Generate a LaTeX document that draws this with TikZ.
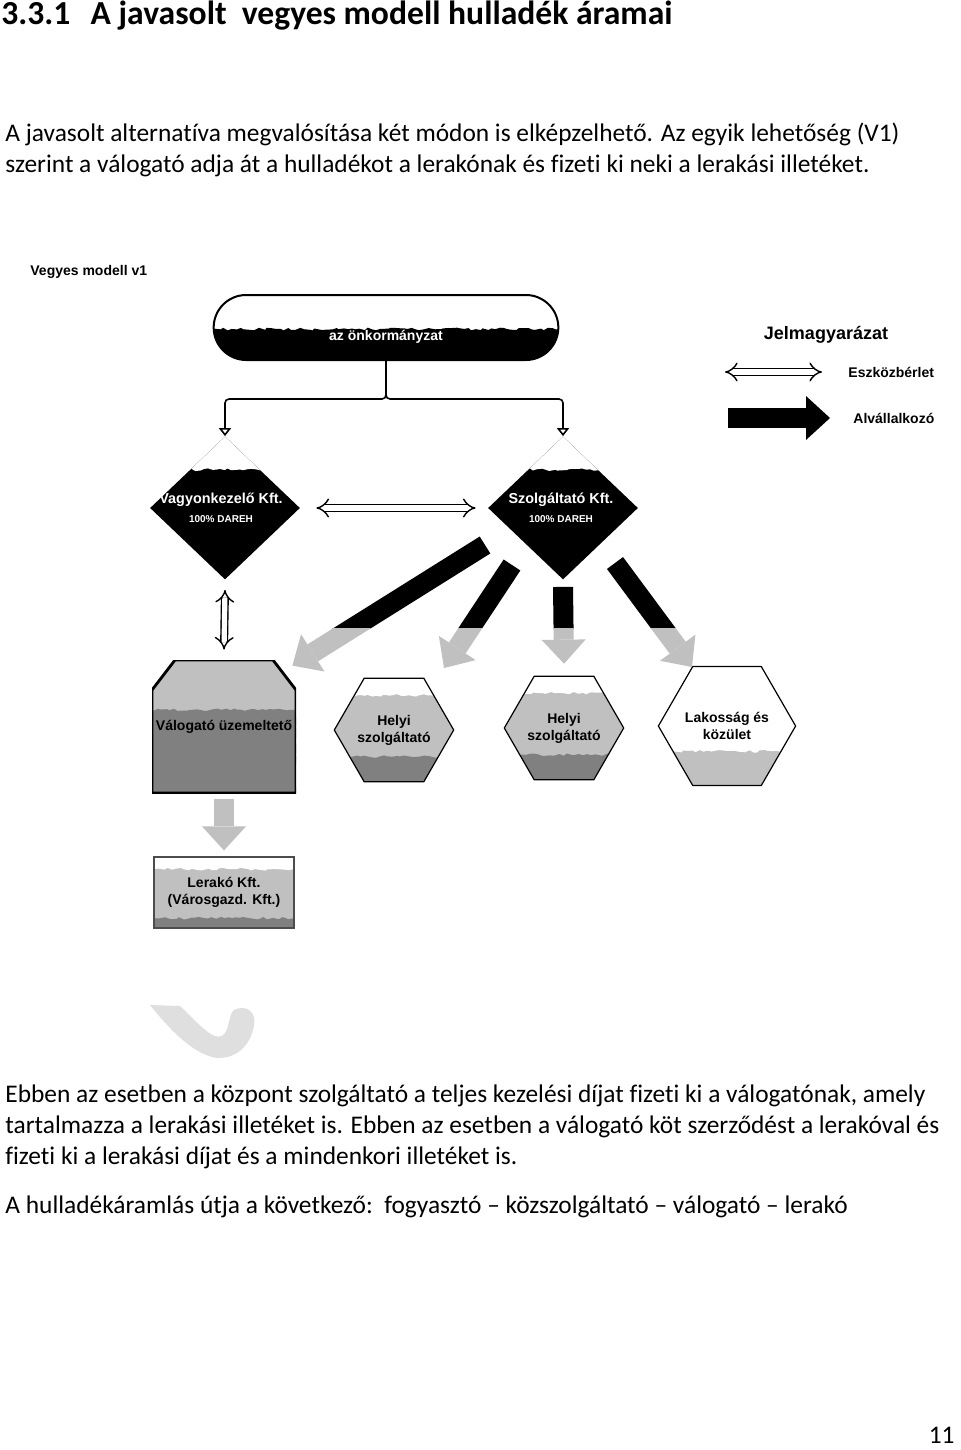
\documentclass[tikz,border=0pt]{standalone}
\usepackage{fontspec}
\setmainfont[Ligatures=NoCommon]{Carlito}
\newfontfamily\arialfont{Liberation Sans}
\usetikzlibrary{positioning,shapes.geometric,shapes.misc,arrows.meta,decorations.pathmorphing}

\definecolor{vilagos}{HTML}{C0C0C0}
\definecolor{sotet}{HTML}{808080}

\newcommand{\szoveg}{\fontsize{12.7pt}{15.5pt}\selectfont}
\newcommand{\abra}{\arialfont\bfseries\fontsize{7pt}{8.5pt}\selectfont}
\newcommand{\ppbb}{path picture bounding box}

% az alvallalkozoi nyilak a szolgaltatotol
\newcommand{\alvnyilak}[1]{%
  \draw[alvnyil,#1] ([shift={(-78,-37)}]dsz.center) -- ([shift={(-4,-6)}]val.north east);
  \draw[alvnyil,#1] ([shift={(-51,-57)}]dsz.center) -- ([shift={(50,62)}]hx1.center);
  \draw[alvnyil,#1] ([yshift=-3.5pt]dsz.south) -- ([yshift=6pt]hx2.north);
  \draw[alvnyil,#1] ([shift={(52,-55)}]dsz.center) -- ([shift={(-35,59)}]hx3.center);
}

\begin{document}
\begin{tikzpicture}[x=0.5pt,y=0.5pt,
    rongy/.style={decorate,decoration={random steps,segment length=2pt,amplitude=0.7pt}},
    abrasz/.style={font=\abra,inner sep=0pt},
    ag/.style={line width=0.8pt,rounded corners=2pt,-{Triangle[open,width=6pt,length=4pt]}},
    berlet/.style={double,double distance=2.6pt,line width=0.7pt,{Implies}-{Implies}},
    alvnyil/.style={line width=10pt,-{Triangle[width=22pt,length=12pt,line width=0pt]}},
    onkorm/.style={rounded rectangle,draw,line width=1pt,minimum width=179pt,minimum height=32.5pt,
      path picture={\fill[black,rongy] ([shift={(-3pt,-3pt)}]\ppbb.south west) rectangle ([yshift=15.5pt]\ppbb.south east);}},
    firma/.style={diamond,fill=black,minimum width=75pt,minimum height=71.5pt,inner sep=0pt,
      path picture={\fill[white,rongy] ([shift={(-3pt,3pt)}]\ppbb.north west) rectangle ([yshift=-16.5pt]\ppbb.north east);}},
    hatszog/.style={regular polygon,regular polygon sides=6,draw,line width=0.6pt,minimum size=54pt,
      inner sep=0pt,align=center,font=\abra},
    helyi/.style={hatszog,fill=vilagos,
      path picture={\fill[white,rongy] ([shift={(-3pt,3pt)}]\ppbb.north west) rectangle ([yshift=-8.5pt]\ppbb.north east);
        \fill[sotet,rongy] ([shift={(-3pt,-3pt)}]\ppbb.south west) rectangle ([yshift=12.5pt]\ppbb.south east);}},
    lakos/.style={hatszog,fill=white,minimum size=57pt,
      path picture={\fill[vilagos,rongy] ([shift={(-3pt,-3pt)}]\ppbb.south west) rectangle ([yshift=17pt]\ppbb.south east);}},
    valbox/.style={rectangle,minimum width=72pt,minimum height=66.5pt,inner sep=0pt,font=\abra,
      path picture={\fill[vilagos] (\ppbb.south west) rectangle (\ppbb.north east);
        \fill[sotet,rongy] ([shift={(-3pt,-3pt)}]\ppbb.south west) rectangle ([yshift=-25pt]\ppbb.north east);
        \fill[white] (\ppbb.north west) -- ([xshift=11.5pt]\ppbb.north west) -- ([yshift=-15pt]\ppbb.north west) -- cycle;
        \fill[white] (\ppbb.north east) -- ([xshift=-11.5pt]\ppbb.north east) -- ([yshift=-15pt]\ppbb.north east) -- cycle;
        \draw[line width=1.4pt] (\ppbb.south west) -- ([yshift=-15pt]\ppbb.north west) -- ([xshift=11.5pt]\ppbb.north west)
          -- ([xshift=-11.5pt]\ppbb.north east) -- ([yshift=-15pt]\ppbb.north east) -- (\ppbb.south east) -- cycle;}},
    lerako/.style={rectangle,draw=black!70,line width=0.8pt,fill=vilagos,minimum width=70pt,minimum height=35.5pt,
      inner sep=0pt,align=center,font=\abra,
      path picture={\fill[white,rongy] ([shift={(-3pt,3pt)}]\ppbb.north west) rectangle ([yshift=-6pt]\ppbb.north east);
        \fill[sotet,rongy] ([shift={(-3pt,-3pt)}]\ppbb.south west) rectangle ([yshift=5pt]\ppbb.south east);}},
    szov/.style={anchor=base west,inner sep=0pt,font=\szoveg}]
  \pgfmathsetseed{3}
  \useasboundingbox[fill=white] (0,0) rectangle (960,-1450);

  % cim es bevezeto
  \node[anchor=base west,inner sep=0pt,font=\bfseries\fontsize{16.8pt}{19pt}\selectfont] (cim) at (1,-25)
    {3.3.1\hspace{0.6em}A javasolt\ \ vegyes modell hulladék áramai};
  \node[szov] (p1a) at (5,-141) {A javasolt alternatíva megvalósítása két módon is elképzelhető. Az egyik lehetőség (V1)};
  \node[szov] (p1b) at (5,-172) {szerint a válogató adja át a hulladékot a lerakónak és fizeti ki neki a lerakási illetéket.};

  % abra
  \node[abrasz,anchor=west] (abracim) at (30,-272) {Vegyes modell v1};
  \node[onkorm] (onk) at (386,-327.5) {};
  \node[abrasz,text=white] (onkt) at ([yshift=-4.5pt]onk.center) {az önkormányzat};

  \node[firma] (dvk) at (225,-508) {};
  \node[firma] (dsz) at (563,-508) {};
  \node[abrasz,text=white,align=center] (dvkt) at ([xshift=-2pt]dvk.center)
    {\fontsize{7.2pt}{9pt}\selectfont Vagyonkezelő Kft.\\[1pt]{\fontsize{5pt}{6pt}\selectfont 100\% DAREH}};
  \node[abrasz,text=white,align=center] (dszt) at ([xshift=-1pt]dsz.center)
    {\fontsize{7.2pt}{9pt}\selectfont Szolgáltató Kft.\\[1pt]{\fontsize{5pt}{6pt}\selectfont 100\% DAREH}};

  \draw[ag] (onk.south) -- ++(0,-38) -| (dvk.north);
  \draw[ag] (onk.south) -- ++(0,-38) -| (dsz.north);

  \node[valbox] (val) at (224,-726.5) {Válogató üzemeltető};
  \node[helyi] (hx1) at (394,-730) {Helyi\\szolgáltató};
  \node[helyi] (hx2) at (564,-728) {Helyi\\szolgáltató};
  \node[lakos] (hx3) at (727,-726) {Lakosság és\\közület};
  \node[lerako,below=31.5pt of val] (ler) {Lerakó Kft.\\(Városgazd. Kft.)};

  \draw[berlet] ([xshift=8pt]dvk.east) -- ([xshift=-6pt]dsz.west);
  \draw[berlet] ([yshift=-5pt]dvk.south) -- ([yshift=5pt]val.north);

  \begin{scope}
    \clip (0,-400) rectangle (960,-628);
    \alvnyilak{black}
  \end{scope}
  \begin{scope}
    \clip (0,-628) rectangle (960,-700);
    \alvnyilak{vilagos}
  \end{scope}
  \draw[alvnyil,vilagos,shorten <=3pt,shorten >=3pt] (val.south) -- (ler.north);

  % jelmagyarazat
  \node[abrasz,font=\arialfont\bfseries\fontsize{9pt}{11pt}\selectfont] (jelm) at (826,-335) {Jelmagyarázat};
  \coordinate (lg1a) at (725,-372);
  \coordinate (lg1b) at (822,-372);
  \draw[berlet] (lg1a) -- (lg1b);
  \node[abrasz,right=13pt of lg1b] (eszk) {Eszközbérlet};
  \coordinate (lg2a) at (728,-418);
  \coordinate (lg2b) at (830,-418);
  \draw[alvnyil,black] (lg2a) -- (lg2b);
  \node[abrasz,right=11.5pt of lg2b] (alv) {Alvállalkozó};

  % szurke ives folt
  \fill[gray!25] (150,-1005) -- (180,-1006) .. controls (200,-1025) and (212,-1040) .. (222,-1036)
    .. controls (230,-1031) and (228,-1015) .. (234,-1010) .. controls (246,-1004) and (257,-1012) .. (254,-1026)
    .. controls (250,-1045) and (238,-1058) .. (218,-1058) .. controls (195,-1056) and (170,-1030) .. cycle;

  % szoveg az abra alatt
  \node[szov] (p2a) at (5,-1102) {Ebben az esetben a központ szolgáltató a teljes kezelési díjat fizeti ki a válogatónak, amely};
  \node[szov] (p2b) at (5,-1133) {tartalmazza a lerakási illetéket is. Ebben az esetben a válogató köt szerződést a lerakóval és};
  \node[szov] (p2c) at (5,-1164) {fizeti ki a lerakási díjat és a mindenkori illetéket is.};
  \node[szov] (p3) at (5,-1213) {A hulladékáramlás útja a következő:\ \ fogyasztó – közszolgáltató – válogató – lerakó};
  \node[anchor=base east,inner sep=0pt,font=\szoveg] (oldal) at (955,-1443) {11};
\end{tikzpicture}
\end{document}
